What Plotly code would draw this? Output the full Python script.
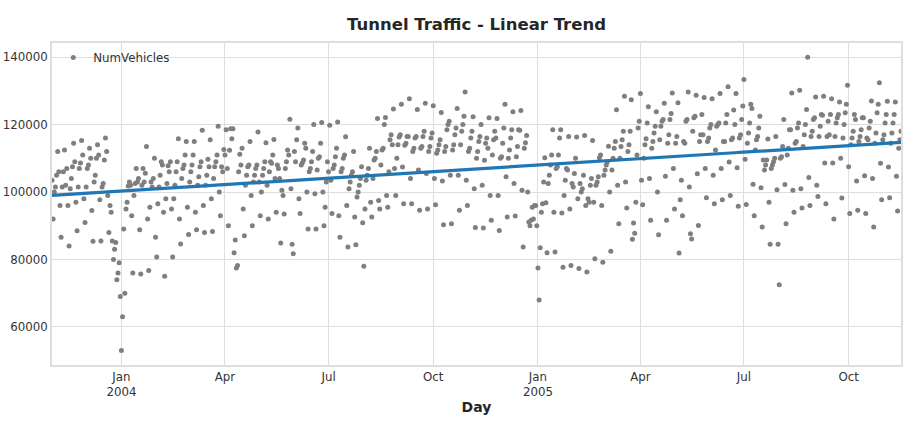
import numpy as np
import pandas as pd
import plotly.graph_objects as go

START_DAY = "2003-11-01"  # a Saturday

# NumVehicles in thousands, one row per week (Sat .. Fri)
weekly_vehicles_k = [
    [103.5, 92, 100, 101.5, 105, 112, 106],
    [96, 86.6, 101.5, 106, 112.5, 102, 107],
    [96, 84, 101, 104, 107.5, 114.5, 109],
    [97, 88.5, 101.5, 107, 108.6, 115.3, 111],
    [98, 91, 101.5, 107, 108, 113, 110],
    [94.5, 85.4, 103, 105, 110, 114, 111],
    [97.7, 85.5, 101.5, 102.5, 109.5, 116, 112],
    [99, 88, 96, 94, 85.5, 80, 83],
    [85, 74, 76, 79, 69, 53, 63],
    [89, 70, 95, 97, 101.8, 103, 102],
    [93, 76, 99, 102.5, 107, 103, 104],
    [88.8, 75.7, 102, 107, 103, 105.6, 113.5],
    [92, 76.7, 95.5, 103, 101.5, 104, 110],
    [86.6, 80.7, 96.5, 101.5, 105, 109, 108],
    [94, 75, 98, 102.5, 107.8, 106, 109],
    [95, 80.7, 98, 102, 106, 109, 115.8],
    [92, 84.6, 104, 107, 108, 111, 115],
    [95.5, 87.4, 103, 106, 108, 111, 115],
    [94, 88.8, 102, 104.5, 107.5, 109, 118.3],
    [96, 88, 102, 105, 109.7, 107.5, 115.5],
    [98, 88.3, 104, 107.5, 109, 111, 119.5],
    [100, 93, 107.5, 106, 112.6, 111, 118.5],
    [107, 90, 112.4, 118.8, 115.8, 118.8, 82],
    [85.8, 77.5, 78.2, 106, 111.2, 108, 113],
    [95, 87, 102, 105, 107.5, 108, 115],
    [99, 90, 103, 105, 107, 108, 117.8],
    [103, 93, 100, 105, 107, 109, 114.6],
    [102, 92, 106, 109, 108.5, 111, 115.6],
    [104, 94, 108, 107, 104, 84.9, 100.5],
    [99, 93.5, 107, 109, 112.5, 111, 121.6],
    [101, 84.5, 81.7, 112, 109, 115.5, 119],
    [98, 93.6, 108, 108.7, 109.5, 114.5, 113],
    [100, 89, 106, 107, 109, 112, 120],
    [99.5, 89, 106.5, 110, 110.5, 114.5, 120.6],
    [100, 90, 95.5, 103, 109, 106, 119.8],
    [103.5, 93.6, 107, 108, 110.5, 113, 120.8],
    [93, 86.6, 106, 107, 110, 111, 116.4],
    [96, 83.7, 101, 103, 105, 106, 112],
    [92.6, 84.4, 98.5, 100, 102, 104, 107.5],
    [90.9, 78, 95, 103.5, 105, 107, 113],
    [97, 92.6, 104, 109.5, 110, 112, 121.8],
    [97.5, 95, 108, 112.5, 113, 120, 122.1],
    [99, 95.5, 106, 115.5, 117, 114, 124.6],
    [107, 99, 110, 114, 116.3, 117, 126],
    [107.4, 96.5, 113.9, 114.5, 116.5, 116.5, 127.7],
    [104, 96.5, 112, 113, 116, 116.5, 124.5],
    [106.5, 94.6, 113, 113.5, 116.5, 118, 126.3],
    [105.5, 95, 112, 113.5, 116, 117.5, 125.6],
    [104, 96.2, 111.5, 112.5, 114, 115.5, 123.6],
    [103.3, 90.3, 112, 113.5, 118.5, 120, 121],
    [105, 90.6, 112.5, 114, 117, 119, 124.8],
    [105, 94.6, 114, 118, 120, 122.5, 129.7],
    [103.5, 96, 112, 113, 116, 118, 122.3],
    [101, 89.5, 110, 112, 115, 116.5, 120],
    [102, 89.3, 109.4, 114.5, 116, 113, 122],
    [99, 91.6, 111, 115.5, 118, 116, 121.8],
    [99, 88.6, 110, 110.5, 114.5, 119, 126],
    [104.5, 92.6, 110, 112.5, 116, 118.5, 123.8],
    [102.5, 92.9, 110.5, 113.5, 118.5, 118.3, 124.2],
    [100.5, 83.7, 113, 114.6, 116.8, 100, 91.1],
    [90, 91.6, 95.5, 92, 96, 96, 90],
    [77.5, 68, 83.5, 94, 96.5, 103, 110.2],
    [96.8, 82, 102.5, 105, 108, 111, 118.5],
    [94, 82.2, 107, 107.5, 111, 116, 118.5],
    [93.8, 77.7, 99, 103.5, 107, 106.5, 116.5],
    [95, 78.2, 102.5, 101.5, 105.5, 110, 116.3],
    [98, 77.3, 102.5, 100, 101, 105, 116.8],
    [96, 76.3, 98, 97, 102, 104, 115.3],
    [97, 80.2, 102, 103, 104.5, 110.2, 111],
    [96, 79.2, 105, 106.5, 108, 109, 113.6],
    [100, 82.4, 106.5, 110, 113, 115, 124.4],
    [102, 90.6, 110, 113.5, 115.5, 118, 128.4],
    [103, 95.3, 112, 114, 118, 127.4, 86],
    [90.8, 87.8, 97, 111, 119, 121, 129.2],
    [103.5, 96.2, 110, 114, 115.8, 120.5, 125.3],
    [104, 91.6, 113, 115, 117.5, 119.5, 123.8],
    [100, 87.3, 115.5, 119.5, 121, 121.5, 126.3],
    [104.7, 91.6, 114.5, 117, 121.5, 123.3, 129.4],
    [107, 95, 114.5, 116.5, 126.5, 81.9, 97.7],
    [103.5, 93, 115, 114.5, 121, 121.5, 129.7],
    [101.5, 87.6, 86.1, 118, 122, 122.5, 128.7],
    [105.4, 90.1, 115, 117, 123, 117, 128],
    [107, 98.3, 115, 116, 119, 120, 127.7],
    [105, 96.5, 112.5, 119.5, 120, 120.5, 129.2],
    [107, 97.7, 115, 115, 120.5, 123, 131.2],
    [108.9, 99, 115.5, 116, 124.3, 120, 129.2],
    [107.2, 95.8, 116, 117, 121.5, 125.5, 133.4],
    [109.7, 96.3, 114.5, 117.5, 120.5, 126, 124.8],
    [102.3, 93, 112.5, 115.5, 116.5, 119, 122.5],
    [101.3, 89.6, 109.5, 106.5, 108, 109.5, 115.7],
    [97, 84.5, 107, 108, 109, 110, 116.5],
    [100.7, 84.5, 72.5, 110, 110.5, 113.5, 121.5],
    [102.2, 90.6, 111, 113, 118.5, 118.5, 129.4],
    [100.5, 94, 114.5, 115, 119, 120.5, 130.2],
    [101, 95.3, 113.5, 117, 120, 124.5, 140],
    [104.3, 96, 116.5, 118, 121.5, 122, 128.2],
    [102, 98.7, 116.5, 119.5, 123, 122.8, 128.4],
    [108.6, 96.5, 116.5, 121, 117, 123, 127.7],
    [108.6, 92, 116.5, 120.5, 122, 123, 126.7],
    [110, 98.2, 116, 120, 123.5, 126, 131.7],
    [107.5, 93.6, 114, 116, 118, 123, 121.5],
    [103.3, 94.6, 115, 116.5, 118.5, 122, 122],
    [104.8, 93.6, 116, 115.5, 119, 121, 127],
    [104, 89.6, 114.5, 117.5, 123.5, 126, 132.4],
    [108.5, 97.7, 115.5, 117, 120.5, 123, 126.9],
    [107.4, 98.3, 114.5, 117.5, 120.5, 123, 126.7],
    [104.7, 94.4, 113, 115.5, 118],
]

tick_dates = ["2004-01-01", "2004-04-01", "2004-07-01", "2004-10-01",
              "2005-01-01", "2005-04-01", "2005-07-01", "2005-10-01"]
tick_text = ["Jan<br>2004", "Apr", "Jul", "Oct", "Jan<br>2005", "Apr", "Jul", "Oct"]
y_ticks = [60000, 80000, 100000, 120000, 140000]

num_vehicles = np.array([v for wk in weekly_vehicles_k for v in wk]) * 1000
days = pd.date_range(START_DAY, periods=len(num_vehicles), freq="D")

# linear trend (least squares on time index)
time_idx = np.arange(len(num_vehicles))
slope, intercept = np.polyfit(time_idx, num_vehicles, 1)
trend = intercept + slope * time_idx

FONT = "DejaVu Sans"
GRID = "#dedede"
W, H = 905, 425

fig = go.Figure()
fig.add_trace(go.Scatter(
    x=days, y=num_vehicles, mode="markers", name="NumVehicles",
    marker=dict(color="#7f7f7f", size=5, line=dict(width=0)),
))
fig.add_trace(go.Scatter(
    x=days, y=trend, mode="lines", showlegend=False,
    line=dict(color="#1f77b4", width=3.2),
))

fig.update_layout(
    width=W, height=H,
    margin=dict(l=52, r=4, t=43, b=60),
    paper_bgcolor="white", plot_bgcolor="white",
    font=dict(family=FONT, size=11.8, color="#333333"),
    title=dict(text="<b>Tunnel Traffic - Linear Trend</b>", x=0.5, xref="paper",
               y=1 - 24 / H, yref="container", yanchor="middle",
               font=dict(family=FONT, size=16.5, color="#262626")),
    legend=dict(x=0.0015, y=1.0, xanchor="left", yanchor="top",
                bgcolor="rgba(0,0,0,0)", font=dict(size=11.8, color="#333333")),
    xaxis=dict(
        range=[days[0], days[-1]], tickvals=tick_dates, ticktext=tick_text,
        showgrid=True, gridcolor=GRID, gridwidth=1, zeroline=False,
        showline=True, linecolor=GRID, linewidth=1.5, mirror=True, ticks="",
        automargin=False,
        title=dict(text="<b>Day</b>", font=dict(size=14, color="#262626"), standoff=4),
    ),
    yaxis=dict(
        range=[48700, 144200], tickvals=y_ticks, tickformat="d",
        showgrid=True, gridcolor=GRID, gridwidth=1, zeroline=False,
        showline=True, linecolor=GRID, linewidth=1.5, mirror=True, ticks="",
        automargin=False,
    ),
)

# drop the default 8px page margin so the figure sits at the window's corner
fig.write_html("out.html", config={"displayModeBar": False},
               post_script="document.body.style.margin = '0';")
